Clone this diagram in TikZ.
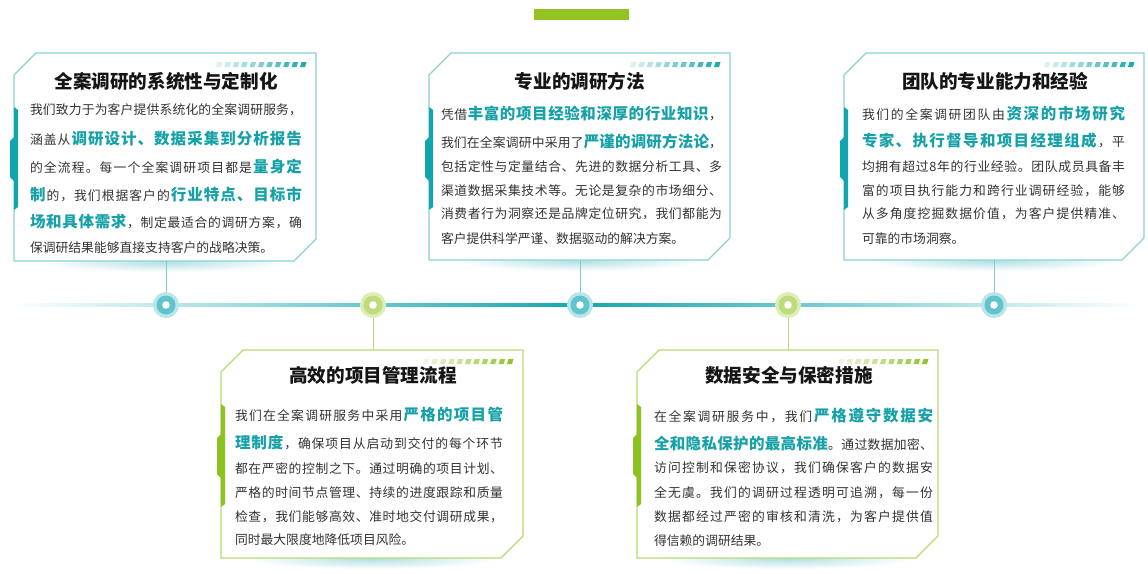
\documentclass[tikz,border=0pt]{standalone}
\usepackage{fontspec}
\setmainfont{Noto Sans CJK SC}
\XeTeXinterchartokenstate=1
\newXeTeXintercharclass\cjkc
\newcount\cc
\cc="3000
\loop \XeTeXcharclass\cc=\cjkc \ifnum\cc<"9FFF \advance\cc by 1 \repeat
\cc="FF00
\loop \XeTeXcharclass\cc=\cjkc \ifnum\cc<"FFEF \advance\cc by 1 \repeat
\newcommand\g{\hskip 0pt plus 3pt minus 0.35pt\relax}
\XeTeXinterchartoks\cjkc\cjkc={\g}
\XeTeXinterchartoks 0 \cjkc={\g}
\XeTeXinterchartoks \cjkc 0={\g}
\definecolor{tealB}{HTML}{8AD2D7}
\definecolor{tealA}{HTML}{12A5AD}
\definecolor{greenB}{HTML}{B7D971}
\definecolor{greenA}{HTML}{8CC21F}
\definecolor{hlc}{HTML}{16A1A8}
\definecolor{bodyc}{HTML}{333333}
\definecolor{titc}{HTML}{151515}
\definecolor{glowc}{HTML}{B3E0E3}
\definecolor{tline}{HTML}{12A8B0}
\definecolor{topbar}{HTML}{93C423}
\definecolor{dotTo}{HTML}{B9E5E9}
\definecolor{dotTm}{HTML}{5FC4CD}
\definecolor{dotGo}{HTML}{DCEDB5}
\definecolor{dotGm}{HTML}{BEDC7E}
\definecolor{connT}{HTML}{7CCDD3}
\definecolor{connG}{HTML}{B9D97A}
\newcommand\hl[1]{{\fontsize{15.5pt}{15.5pt}\selectfont\bfseries\color{hlc}#1}}
\newcommand\jl[2]{\hbox to #1pt{#2}}
\newcommand\cardglow[3]{\shade[inner color=glowc, outer color=white] ({(#1+#2)/2},#3+1) ellipse (125pt and 10pt);}
\newcommand\card[6]{%
  \filldraw[fill=white, draw=#5, line width=1.1pt] (#1,#2+22) -- (#1+22,#2) -- (#3,#2) -- (#3,#4-22) -- (#3-22,#4) -- (#1,#4) -- cycle;
  \fill[#6] (#1,#2+54) -- (#1+4,#2+57) -- (#1+4,#2+154) -- (#1,#2+157) -- (#1,#2+128) -- (#1-4,#2+124) -- (#1-4,#2+88) -- (#1,#2+84) -- cycle;
  \foreach \i in {0,...,10}{%
    \pgfmathtruncatemacro\p{15+8*\i}%
    \fill[#6!\p!white] (#3-100+\i*8.4+1.5,#2+9) -- (#3-100+\i*8.4+6.5,#2+9) -- (#3-100+\i*8.4+5,#2+14) -- (#3-100+\i*8.4,#2+14) -- cycle;
  }%
}
\tikzset{
  txt/.style={anchor=base west, inner sep=0pt, outer sep=0pt, text=bodyc, font=\fontsize{12.8pt}{12.8pt}\selectfont},
  ttl/.style={anchor=base, inner sep=0pt, outer sep=0pt, text=titc, font=\fontsize{18.6pt}{18.6pt}\selectfont\bfseries},
  dotT/.style={circle, minimum size=26pt, inner sep=0pt, fill=dotTo, path picture={\fill[dotTm] (path picture bounding box.center) circle (9.5pt); \fill[white] (path picture bounding box.center) circle (3.8pt);}},
  dotG/.style={circle, minimum size=26pt, inner sep=0pt, fill=dotGo, path picture={\fill[dotGm] (path picture bounding box.center) circle (9.5pt); \fill[white] (path picture bounding box.center) circle (3.8pt);}},
  conT/.style={draw=connT, line width=0.8pt},
  conG/.style={draw=connG, line width=0.8pt},
}
\begin{document}
\begin{tikzpicture}[x=1pt, y=-1pt]
\useasboundingbox (0,0) rectangle (1148,573);
\fill[white] (0,0) rectangle (1148,573);
% top bar
\fill[topbar] (534,9) rectangle (629,20);
% timeline
\shade[left color=white, right color=tline] (10,303.6) rectangle (580,306.4);
\shade[left color=tline, right color=white] (580,303.6) rectangle (1140,306.4);
% glows
\cardglow{14}{316}{261}
\cardglow{429}{730}{260}
\cardglow{844}{1144}{260}
\cardglow{221}{523}{558}
\cardglow{637}{938}{558}
% cards
\card{14}{53}{316}{261}{tealB}{tealA}
\card{429}{53}{730}{260}{tealB}{tealA}
\card{844}{53}{1144}{260}{tealB}{tealA}
\card{221}{350}{523}{558}{greenB}{greenA}
\card{637}{350}{938}{558}{greenB}{greenA}
% anchors on cards
\coordinate (c1) at (166,261);
\coordinate (c3) at (580,260);
\coordinate (c5) at (994,260);
\coordinate (c2) at (373,350);
\coordinate (c4) at (788,350);
% dots
\node[dotT] (d1) at (166,305) {};
\node[dotG] (d2) at (373,305) {};
\node[dotT] (d3) at (580,305) {};
\node[dotG] (d4) at (788,305) {};
\node[dotT] (d5) at (994,305) {};
% connectors
\draw[conT] (c1) -- (d1);
\draw[conT] (c3) -- (d3);
\draw[conT] (c5) -- (d5);
\draw[conG] (c2) -- (d2);
\draw[conG] (c4) -- (d4);
% card 1
\node[ttl] (t1) at (166,88.5) {全案调研的系统性与定制化};
\node[txt] (a1) at (30,114.8) {\jl{272}{我们致力于为客户提供系统化的全案调研服务，}};
\node[txt] (a2) at (30,144) {\jl{272}{涵盖从\g{}\hl{调研设计、数据采集到分析报告}}};
\node[txt] (a3) at (30,172.3) {\jl{272}{的全流程。每一个全案调研项目都是\g{}\hl{量身定}}};
\node[txt] (a4) at (30,200.3) {\jl{272}{\hl{制}\g{}的，我们根据客户的\g{}\hl{行业特点、目标市}}};
\node[txt] (a5) at (30,227.3) {\jl{272}{\hl{场和具体需求}\g{}，制定最适合的调研方案，确}};
\node[txt] (a6) at (30,252.8) {保调研结果能够直接支持客户的战略决策。};
% card 2
\node[ttl] (t2) at (580,88.5) {专业的调研方法};
\node[txt] (b1) at (441,119) {\jl{281}{凭借\g{}\hl{丰富的项目经验和深厚的行业知识}\g{}，}};
\node[txt] (b2) at (441,147) {\jl{281}{我们在全案调研中采用了\g{}\hl{严谨的调研方法论}\g{}，}};
\node[txt] (b3) at (441,171.5) {\jl{281}{包括定性与定量结合、先进的数据分析工具、多}};
\node[txt] (b4) at (441,195.5) {\jl{281}{渠道数据采集技术等。无论是复杂的市场细分、}};
\node[txt] (b5) at (441,218.8) {\jl{281}{消费者行为洞察还是品牌定位研究，我们都能为}};
\node[txt] (b6) at (441,243.8) {客户提供科学严谨、数据驱动的解决方案。};
% card 3
\node[ttl] (t3) at (995,88.5) {团队的专业能力和经验};
\node[txt] (e1) at (862,119) {\jl{263}{我们的全案调研团队由\g{}\hl{资深的市场研究}}};
\node[txt] (e2) at (862,146.3) {\jl{263}{\hl{专家、执行督导和项目经理组成}\g{}，平}};
\node[txt] (e3) at (862,171.5) {\jl{263}{均拥有超过8年的行业经验。团队成员具备丰}};
\node[txt] (e4) at (862,195.5) {\jl{263}{富的项目执行能力和跨行业调研经验，能够}};
\node[txt] (e5) at (862,218.8) {\jl{263}{从多角度挖掘数据价值，为客户提供精准、}};
\node[txt] (e6) at (862,243.8) {可靠的市场洞察。};
% card 4
\node[ttl] (t4) at (373,382) {高效的项目管理流程};
\node[txt] (f1) at (235,420.3) {\jl{268}{我们在全案调研服务中采用\g{}\hl{严格的项目管}}};
\node[txt] (f2) at (235,448) {\jl{268}{\hl{理制度}\g{}，确保项目从启动到交付的每个环节}};
\node[txt] (f3) at (235,473) {\jl{268}{都在严密的控制之下。通过明确的项目计划、}};
\node[txt] (f4) at (235,497.5) {\jl{268}{严格的时间节点管理、持续的进度跟踪和质量}};
\node[txt] (f5) at (235,521.5) {\jl{268}{检查，我们能够高效、准时地交付调研成果，}};
\node[txt] (f6) at (235,544.8) {同时最大限度地降低项目风险。};
% card 5
\node[ttl] (t5) at (789,382) {数据安全与保密措施};
\node[txt] (g1) at (654,421.3) {\jl{279}{在全案调研服务中，我们\g{}\hl{严格遵守数据安}}};
\node[txt] (g2) at (654,449.3) {\jl{279}{\hl{全和隐私保护的最高标准}\g{}。通过数据加密、}};
\node[txt] (g3) at (654,472.8) {\jl{279}{访问控制和保密协议，我们确保客户的数据安}};
\node[txt] (g4) at (654,497.5) {\jl{279}{全无虞。我们的调研过程透明可追溯，每一份}};
\node[txt] (g5) at (654,521.5) {\jl{279}{数据都经过严密的审核和清洗，为客户提供值}};
\node[txt] (g6) at (654,545.8) {得信赖的调研结果。};
\end{tikzpicture}
\end{document}
